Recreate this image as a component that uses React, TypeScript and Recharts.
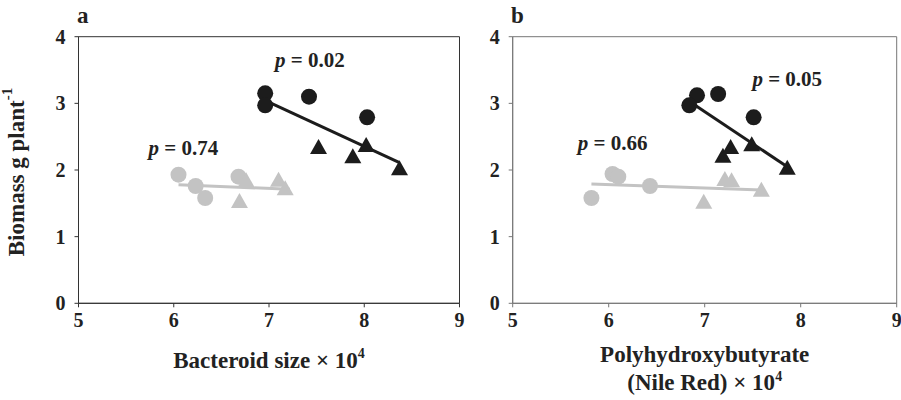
import { ScatterChart, Scatter, XAxis, YAxis, ReferenceLine, ReferenceArea, ReferenceDot } from 'recharts';

type Pt = { x: number; y: number };

// axis ticks
const xTicks = [5, 6, 7, 8, 9];
const yTicks = [0, 1, 2, 3, 4];

// panel a: bacteroid size
const aBlackCircles: Pt[] = [
  { x: 6.96, y: 3.15 },
  { x: 6.96, y: 2.97 },
  { x: 7.42, y: 3.1 },
  { x: 8.03, y: 2.79 },
];
const aBlackTriangles: Pt[] = [
  { x: 7.52, y: 2.33 },
  { x: 7.88, y: 2.19 },
  { x: 8.02, y: 2.36 },
  { x: 8.37, y: 2.01 },
];
const aGrayCircles: Pt[] = [
  { x: 6.05, y: 1.93 },
  { x: 6.23, y: 1.76 },
  { x: 6.33, y: 1.58 },
  { x: 6.68, y: 1.9 },
];
const aGrayTriangles: Pt[] = [
  { x: 6.69, y: 1.52 },
  { x: 6.76, y: 1.83 },
  { x: 7.1, y: 1.84 },
  { x: 7.17, y: 1.71 },
];
const aFitBlack: Pt[] = [{ x: 6.98, y: 3.03 }, { x: 8.37, y: 2.11 }];
const aFitGray: Pt[] = [{ x: 6.05, y: 1.78 }, { x: 7.22, y: 1.71 }];
const aPLabels = [
  { x: 7.43, y: 3.65, text: '0.02' },
  { x: 6.1, y: 2.33, text: '0.74' },
];

// panel b: polyhydroxybutyrate
const bBlackCircles: Pt[] = [
  { x: 6.92, y: 3.12 },
  { x: 6.84, y: 2.97 },
  { x: 7.14, y: 3.14 },
  { x: 7.51, y: 2.79 },
];
const bBlackTriangles: Pt[] = [
  { x: 7.19, y: 2.2 },
  { x: 7.27, y: 2.33 },
  { x: 7.49, y: 2.37 },
  { x: 7.86, y: 2.02 },
];
const bGrayCircles: Pt[] = [
  { x: 5.82, y: 1.58 },
  { x: 6.04, y: 1.94 },
  { x: 6.1, y: 1.9 },
  { x: 6.43, y: 1.76 },
];
const bGrayTriangles: Pt[] = [
  { x: 6.99, y: 1.51 },
  { x: 7.21, y: 1.85 },
  { x: 7.28, y: 1.83 },
  { x: 7.59, y: 1.69 },
];
const bFitBlack: Pt[] = [{ x: 6.9, y: 2.97 }, { x: 7.86, y: 2.05 }];
const bFitGray: Pt[] = [{ x: 5.82, y: 1.79 }, { x: 7.59, y: 1.7 }];
const bPLabels = [
  { x: 7.86, y: 3.37, text: '0.05' },
  { x: 6.04, y: 2.41, text: '0.66' },
];

const FONT = 'Liberation Serif';
const BLACK = '#1c1c1c';
const GRAY = '#c3c3c3';
const TEXT = '#222';

const circleShape = (fill: string) => (p: any) => <circle cx={p.cx} cy={p.cy} r={8} fill={fill} />;
const triangleShape = (fill: string) => (p: any) => {
  const { cx, cy } = p;
  const h = 15;
  const w = 17;
  return (
    <polygon
      points={`${cx},${cy - h * 0.6} ${cx - w / 2},${cy + h * 0.4} ${cx + w / 2},${cy + h * 0.4}`}
      fill={fill}
    />
  );
};

const pLabel = (text: string) => (props: any) => {
  const vb = props.viewBox || {};
  const x = vb.x + (vb.width || 0) / 2;
  const y = vb.y + (vb.height || 0) / 2;
  return (
    <text x={x} y={y} textAnchor="middle" dominantBaseline="central" fontFamily={FONT} fontWeight="bold" fontSize={21} fill={TEXT}>
      <tspan fontStyle="italic">p</tspan>
      <tspan> = {text}</tspan>
    </text>
  );
};

const tickStyle = { fontFamily: FONT, fontWeight: 'bold', fontSize: 20, fill: TEXT };

const yLabel = (props: any) => {
  const vb = props.viewBox;
  const cx = 16;
  const cy = vb.y + vb.height / 2 + 2;
  return (
    <text
      x={cx}
      y={cy}
      transform={`rotate(-90, ${cx}, ${cy})`}
      textAnchor="middle"
      dominantBaseline="central"
      fontFamily={FONT}
      fontWeight="bold"
      fontSize={23}
      fill={TEXT}
    >
      Biomass g plant<tspan fontSize={15} dy={-9}>-1</tspan>
    </text>
  );
};

const xLabel = (text: string) => (props: any) => {
  const vb = props.viewBox;
  const cx = vb.x + vb.width / 2;
  return (
    <text x={cx} y={368} textAnchor="middle" fontFamily={FONT} fontWeight="bold" fontSize={23} fill={TEXT}>
      {text}
      <tspan fontSize={14} dy={-10}>4</tspan>
    </text>
  );
};

interface PanelProps {
  width: number;
  yAxisWidth: number;
  right: number;
  axisColor: string;
  blackCircles: Pt[];
  blackTriangles: Pt[];
  grayCircles: Pt[];
  grayTriangles: Pt[];
  fitBlack: Pt[];
  fitGray: Pt[];
  pLabels: { x: number; y: number; text: string }[];
  xTitle?: string;
  showYTitle: boolean;
}

function Panel(p: PanelProps) {
  return (
    <ScatterChart
      width={p.width}
      height={400}
      margin={{ top: 36.7, right: p.right, bottom: 56.7, left: 0 }}
      style={{ overflow: 'visible' }}
    >
      <XAxis
        type="number"
        dataKey="x"
        domain={[5, 9]}
        ticks={xTicks}
        interval={0}
        tickSize={4}
        tickMargin={5}
        height={40}
        axisLine={{ stroke: p.axisColor }}
        tickLine={{ stroke: p.axisColor }}
        tick={tickStyle}
        allowDataOverflow
        label={p.xTitle ? xLabel(p.xTitle) : undefined}
      />
      <YAxis
        type="number"
        dataKey="y"
        domain={[0, 4]}
        ticks={yTicks}
        interval={0}
        tickSize={4}
        tickMargin={9}
        width={p.yAxisWidth}
        axisLine={{ stroke: p.axisColor }}
        tickLine={{ stroke: p.axisColor }}
        tick={tickStyle}
        allowDataOverflow
        label={p.showYTitle ? yLabel : undefined}
      />
      <ReferenceArea x1={5} x2={9} y1={0} y2={4} fill="none" stroke={p.axisColor} strokeWidth={1} ifOverflow="visible" />
      <Scatter data={p.grayCircles} shape={circleShape(GRAY)} isAnimationActive={false} />
      <Scatter data={p.grayTriangles} shape={triangleShape(GRAY)} isAnimationActive={false} />
      <Scatter data={p.blackCircles} shape={circleShape(BLACK)} isAnimationActive={false} />
      <Scatter data={p.blackTriangles} shape={triangleShape(BLACK)} isAnimationActive={false} />
      <ReferenceLine segment={[p.fitGray[0], p.fitGray[1]]} stroke={GRAY} strokeWidth={3} />
      <ReferenceLine segment={[p.fitBlack[0], p.fitBlack[1]]} stroke={BLACK} strokeWidth={3} />
      {p.pLabels.map((l, i) => (
        <ReferenceDot key={i} x={l.x} y={l.y} r={0} fill="none" stroke="none" label={pLabel(l.text)} />
      ))}
    </ScatterChart>
  );
}

export default function App() {
  const letter = { position: 'absolute' as const, top: 0, lineHeight: '32px', fontFamily: FONT, fontWeight: 'bold', fontSize: 23, color: TEXT };
  return (
    <div style={{ position: 'fixed', left: 0, top: 0, width: 901, height: 400, background: '#fff', overflow: 'hidden' }}>
      <style>{'html, body { margin: 0; overflow: hidden; }'}</style>
      <div style={{ position: 'absolute', left: 0, top: 0 }}>
        <Panel
          width={470}
          yAxisWidth={78.5}
          right={10.5}
          axisColor="#333"
          blackCircles={aBlackCircles}
          blackTriangles={aBlackTriangles}
          grayCircles={aGrayCircles}
          grayTriangles={aGrayTriangles}
          fitBlack={aFitBlack}
          fitGray={aFitGray}
          pLabels={aPLabels}
          xTitle="Bacteroid size × 10"
          showYTitle
        />
      </div>
      <div style={{ position: 'absolute', left: 470, top: 0 }}>
        <Panel
          width={445}
          yAxisWidth={42.7}
          right={18.3}
          axisColor="#777"
          blackCircles={bBlackCircles}
          blackTriangles={bBlackTriangles}
          grayCircles={bGrayCircles}
          grayTriangles={bGrayTriangles}
          fitBlack={bFitBlack}
          fitGray={bFitGray}
          pLabels={bPLabels}
          showYTitle={false}
        />
      </div>
      <div style={{ ...letter, left: 77 }}>a</div>
      <div style={{ ...letter, left: 511 }}>b</div>
      <div
        style={{
          position: 'absolute',
          left: 470 + 42.7,
          width: 384,
          top: 341,
          textAlign: 'center',
          fontFamily: FONT,
          fontWeight: 'bold',
          fontSize: 23,
          color: TEXT,
          lineHeight: '28px',
        }}
      >
        Polyhydroxybutyrate
        <br />
        (Nile Red) × 10<sup style={{ fontSize: 14, verticalAlign: 'super', lineHeight: 0 }}>4</sup>
      </div>
    </div>
  );
}
